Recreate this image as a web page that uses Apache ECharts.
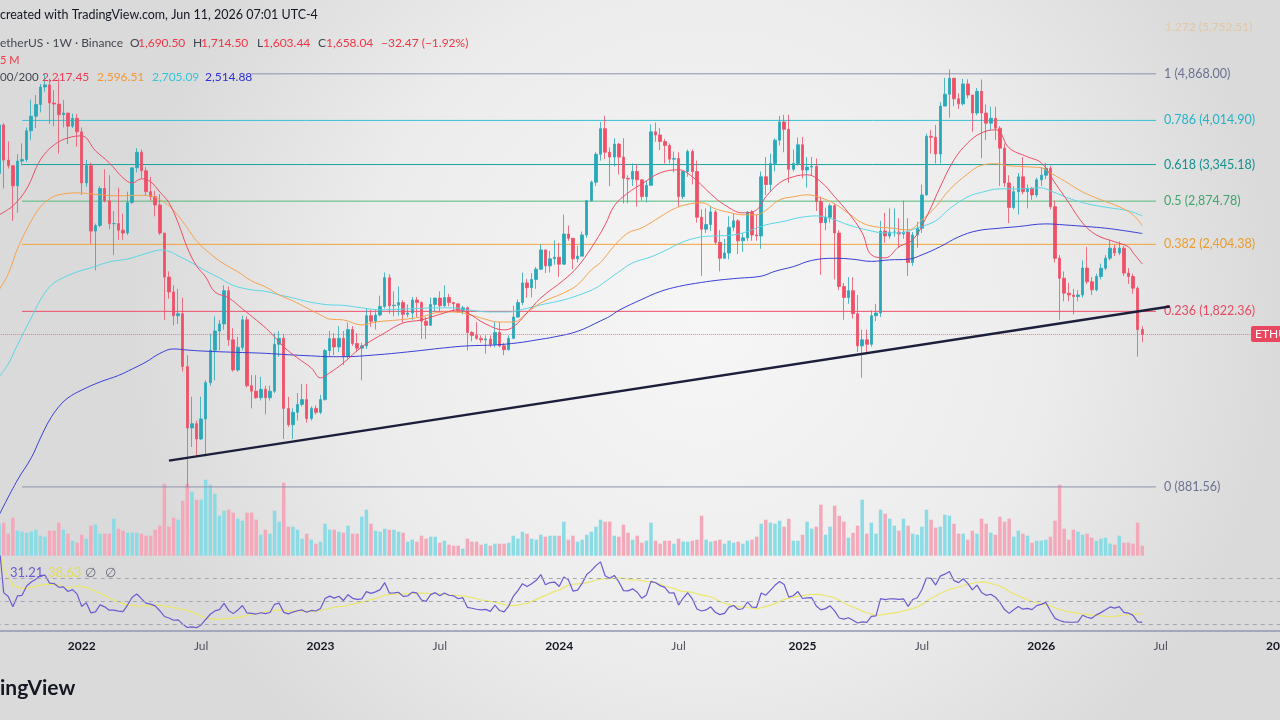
<!DOCTYPE html>
<html>
<head>
<meta charset="utf-8">
<title>ETHUSDT 1W Binance</title>
<script src="https://cdn.jsdelivr.net/npm/echarts@6/dist/echarts.min.js"></script>
<style>
html,body{margin:0;padding:0;width:1280px;height:720px;overflow:hidden;background:#ececec;}
#chart{width:1280px;height:720px;}
</style>
</head>
<body>
<div id="chart"></div>
<script>
// weekly candles, first week starts 2021-08-30
var firstOpen = 3225;
var closes = [
3940,3407,3329,3063,3393,3415,3847,4085,4288,4610,
4650,4315,4295,4112,4140,3920,4050,3830,3100,3330,
2540,2600,3030,2880,2620,2620,2550,2520,2860,3300,
3520,3260,2990,2930,2830,2520,2100,1975,1790,1805,
1450,1125,1145,1075,1168,1357,1552,1680,1730,1985,
1620,1430,1570,1760,1340,1310,1275,1320,1275,1310,
1590,1630,1220,1140,1200,1240,1265,1170,1220,1200,
1265,1550,1628,1573,1630,1515,1690,1595,1565,1580,
1790,1750,1795,1860,2095,1865,1870,1890,1800,1810,
1910,1890,1750,1720,1875,1925,1865,1930,1890,1880,
1830,1850,1670,1650,1630,1620,1625,1590,1670,1580,
1555,1630,1780,1890,2050,2010,2080,2170,2350,2200,
2265,2280,2215,2510,2465,2265,2290,2500,2880,3110,
3490,3880,3520,3450,3640,3450,3160,3150,3250,3140,
2930,3070,3830,3780,3680,3620,3420,3430,2930,3250,
3530,3250,2690,2560,2610,2750,2425,2270,2320,2580,
2650,2440,2470,2750,2500,2490,3180,3080,3360,3700,
3990,3870,3280,3360,3630,3270,3310,3320,2870,2630,
2690,2820,2520,2020,1930,1985,1805,1580,1620,1590,
1790,1810,2540,2490,2530,2530,2510,2530,2230,2500,
2570,2950,3760,3745,3495,4260,4475,4780,4390,4300,
4670,4460,4140,4528,4140,3970,4050,3888,3580,3100,
2800,2990,3180,2990,3030,2950,3140,3200,3295,2810,
2270,2090,1965,1950,1937,1950,2180,2060,1992,2105,
2179,2271,2367,2320,2367,2135,2105,2006,1690.50,1658.04
];
var highs = [
4030,3975,3680,3175,3490,3650,3900,4375,4460,4665,
4868,4770,4550,4780,4370,4110,4130,4125,3900,3410,
3370,2620,3060,3280,3200,2760,3040,2730,2990,3300,
3580,3560,3310,3180,3000,2960,2520,2150,2030,2000,
1930,1520,1280,1160,1280,1370,1660,1785,1760,2030,
2020,1700,1640,1790,1785,1400,1400,1390,1340,1340,
1665,1680,1660,1280,1220,1300,1350,1350,1230,1235,
1290,1560,1680,1665,1715,1680,1740,1715,1665,1600,
1845,1835,1835,1945,2140,2125,1980,2020,1910,1875,
1935,1935,1900,1780,1930,1930,1980,2030,1960,1895,
1870,1865,1860,1680,1745,1650,1650,1650,1750,1745,
1600,1650,1865,1915,2140,2085,2135,2190,2405,2350,
2340,2445,2420,2720,2600,2470,2390,2535,2890,3130,
3520,3990,4093,3590,3730,3660,3730,3200,3360,3350,
3150,3130,3950,3980,3890,3720,3650,3530,3520,3250,
3560,3560,3400,2780,2790,2820,2770,2550,2460,2700,
2730,2670,2520,2760,2770,2720,3250,3450,3500,3730,
4090,4110,4110,3560,3740,3750,3450,3450,3430,2930,
2800,2850,2850,2550,2050,2100,2100,1950,1690,1690,
1830,1880,2650,2740,2790,2790,2680,2880,2680,2530,
2640,3080,3800,3860,3940,4330,4790,4956,4790,4490,
4770,4760,4460,4590,4755,4290,4250,4250,3920,3650,
3200,3060,3230,3450,3080,3050,3170,3310,3370,3330,
2880,2300,2150,2050,2000,1990,2250,2380,2100,2130,
2220,2300,2450,2400,2433,2390,2180,2130,2020,1714.50
];
var lows = [
3155,3030,3290,2650,2740,3330,3380,3700,3890,4150,
4520,3960,3920,3500,3900,3640,3890,3600,2950,3050,
2410,2160,2580,2860,2560,2300,2450,2450,2500,2840,
3240,3160,2940,2880,2700,2500,1760,1920,1720,1730,
1420,881.56,1040,1000,1070,1000,1340,1370,1550,1690,
1580,1420,1420,1550,1330,1220,1270,1260,1190,1260,
1300,1510,1075,1130,1075,1160,1230,1150,1160,1190,
1190,1260,1510,1520,1540,1460,1500,1580,1540,1370,
1560,1710,1690,1785,1845,1805,1785,1790,1740,1780,
1760,1780,1626,1625,1720,1820,1820,1855,1860,1820,
1810,1800,1550,1610,1620,1600,1530,1570,1570,1570,
1520,1550,1625,1775,1870,1930,1930,2000,2160,2135,
2140,2210,2100,2210,2440,2170,2230,2290,2470,2870,
3060,3400,3420,3060,3320,3210,2850,2850,3060,2810,
2880,2860,3060,3675,3550,3360,3360,3240,2810,2900,
3180,3080,2630,2110,2520,2540,2400,2150,2270,2260,
2540,2310,2330,2440,2440,2440,2360,2950,3000,3250,
3620,3520,3100,3250,3330,3160,3040,3200,2760,2120,
2550,2630,2080,1990,1760,1880,1770,1540,1385,1540,
1575,1750,1780,2420,2460,2480,2370,2460,2110,2200,
2370,2520,2940,3500,3360,3360,4290,4060,4260,4210,
4270,4400,3830,4100,3435,3700,3850,3700,3060,3050,
2625,2780,2720,2960,2790,2890,2920,3060,3150,2780,
2230,1760,1900,1900,1800,1900,1930,2040,1950,1980,
2080,2160,2250,2290,2300,2110,2040,1960,1511,1603.44
];
// volume read as bar heights
var volumes = [
32,33,22,38,25,24,23,24,26,20,
19,25,25,33,26,22,15,13,21,17,
30,31,22,22,22,37,27,25,23,23,
23,22,20,20,26,30,72,29,38,36,
55,72,64,56,56,76,71,62,40,45,
46,43,37,35,43,43,36,21,26,22,
45,34,73,29,29,26,17,22,16,12,
14,32,26,26,24,23,30,22,22,39,
46,32,25,24,27,26,26,24,23,14,
16,14,20,17,19,19,13,15,11,10,
10,7,17,14,14,11,12,10,12,12,
12,13,20,17,24,22,17,16,21,19,
20,20,20,34,16,20,14,16,21,24,
29,36,34,34,20,19,31,23,16,20,
13,15,33,15,12,15,15,12,17,14,
14,15,16,40,16,14,15,16,12,15,
13,14,12,15,16,19,32,36,33,32,
35,29,37,15,15,21,34,27,29,51,
21,29,50,40,34,18,23,30,56,22,
33,22,46,42,37,30,25,37,30,22,
21,29,46,36,28,29,41,40,32,22,
22,16,25,22,37,32,23,21,39,34,
37,19,25,22,20,13,15,15,16,19,
35,71,27,16,26,24,21,22,18,15,
17,18,12,11,20,13,13,12,33,10
];
// moving averages: [week index, price]
var ma20 = [[0,2717],[3,2820],[6,3025],[9,3411],[12,3629],[15,3735],[18,3767],[21,3540],[24,3369],[27,3166],[29,3100],[31,3153],[33,3114],[35,2987],[37,2855],[39,2628],[41,2370],[43,2200],[45,2101],[47,1975],[50,1927],[53,1841],[56,1759],[59,1673],[62,1573],[65,1503],[68,1442],[70,1384],[72,1413],[75,1472],[79,1573],[84,1667],[88,1737],[92,1759],[97,1811],[100,1834],[102,1811],[106,1730],[110,1688],[112,1709],[115,1811],[118,1927],[123,2075],[126,2191],[129,2370],[132,2606],[134,2820],[137,2975],[140,3088],[144,3232],[148,3273],[151,3180],[155,2963],[158,2832],[162,2739],[165,2773],[167,2927],[170,3100],[173,3180],[176,3206],[179,3114],[182,2927],[185,2739],[188,2521],[190,2302],[193,2274],[196,2380],[199,2450],[202,2694],[205,3050],[208,3411],[211,3659],[214,3814],[217,3861],[218,3830],[220,3584],[224,3453],[227,3369],[230,3100],[233,2855],[236,2628],[239,2500],[243,2430],[246,2380],[247,2322],[249,2217.45]];
var ma50 = [[0,1992],[2,2128],[4,2360],[7,2650],[9,2808],[11,2903],[13,2951],[17,2975],[22,2951],[26,2939],[30,2945],[33,2939],[35,2891],[37,2820],[39,2705],[41,2574],[43,2440],[46,2312],[49,2218],[52,2146],[55,2067],[58,2017],[61,1951],[64,1903],[67,1849],[70,1796],[72,1765],[75,1759],[79,1723],[82,1744],[87,1759],[92,1781],[95,1811],[98,1818],[101,1811],[105,1773],[109,1744],[112,1744],[115,1811],[118,1888],[123,1967],[126,2034],[129,2164],[131,2230],[134,2390],[137,2521],[140,2574],[144,2694],[147,2785],[150,2838],[153,2855],[156,2785],[159,2745],[162,2717],[165,2717],[167,2768],[170,2891],[173,2927],[176,2951],[179,2915],[182,2843],[185,2734],[188,2628],[191,2585],[194,2574],[198,2553],[201,2661],[204,2808],[207,3013],[211,3219],[214,3335],[217,3355],[220,3328],[224,3313],[227,3300],[229,3232],[232,3127],[236,2987],[240,2891],[244,2808],[247,2717],[249,2596.51]];
var ma100 = [[0,1390],[2,1466],[4,1587],[7,1773],[9,1911],[11,2017],[13,2075],[17,2146],[20,2182],[24,2236],[28,2264],[31,2302],[34,2341],[35,2349],[37,2336],[39,2293],[42,2227],[45,2155],[48,2093],[51,2029],[55,1992],[58,1980],[61,1951],[64,1927],[67,1899],[70,1880],[72,1872],[75,1868],[79,1849],[83,1834],[89,1841],[95,1849],[99,1849],[102,1834],[107,1818],[111,1818],[114,1837],[118,1872],[123,1911],[127,1959],[130,2008],[132,2060],[135,2146],[138,2227],[142,2283],[145,2341],[149,2430],[153,2480],[156,2490],[160,2500],[163,2537],[167,2606],[171,2645],[174,2683],[178,2705],[182,2661],[185,2606],[189,2553],[193,2521],[196,2521],[200,2574],[204,2650],[207,2785],[211,2927],[214,2981],[218,3025],[222,3025],[227,3038],[229,3000],[234,2891],[238,2832],[242,2796],[246,2762],[249,2705.09]];
var ma200 = [[0,785],[4,907],[7,994],[9,1079],[11,1163],[13,1228],[15,1274],[18,1316],[22,1361],[26,1398],[29,1436],[32,1478],[35,1531],[38,1560],[41,1553],[44,1547],[48,1542],[53,1537],[58,1532],[63,1523],[68,1516],[72,1511],[75,1511],[82,1522],[89,1541],[97,1567],[102,1580],[108,1586],[113,1600],[117,1619],[121,1640],[126,1678],[131,1752],[133,1785],[135,1830],[140,1915],[144,1978],[148,2020],[153,2054],[157,2075],[161,2090],[166,2108],[169,2151],[173,2193],[177,2250],[182,2270],[186,2261],[190,2241],[194,2255],[198,2261],[201,2302],[205,2382],[209,2480],[213,2543],[218,2571],[222,2588],[228,2617],[232,2606],[237,2588],[241,2571],[245,2545],[249,2514.88]];
var fibLevels = [1, 0.786, 0.618, 0.5, 0.382, 0.236, 0];
var fibPrices = [4868.00, 4014.90, 3345.18, 2874.78, 2404.38, 1822.36, 881.56];
var fibColors = ['#8d92ad','#35c1d3','#1aa39e','#55b97c','#f2a33c','#ef5068','#8d92ad'];
var fibText = ['#6a7192','#22b3c7','#12928e','#3fa56b','#e99d2e','#e84a63','#6a7192'];
var fibStart = [55, 5, 5, 5, 5, 5, 5];
var fibEnd = 252;
var trendLine = [[37, 983], [255, 1859]];
var lastPrice = 1658.04;

var nCats = 282;
var cats = [];
var t0 = Date.UTC(2021, 7, 30);
for (var i = 0; i < nCats; i++) {
	cats.push(new Date(t0 + i * 7 * 86400000).toISOString().slice(0, 10));
}

var upCol = '#29a8ba', downCol = '#ee5068';
var opens = [firstOpen];
for (var i = 1; i < closes.length; i++) opens.push(closes[i - 1]);
var candles = [], volData = [];
for (var i = 0; i < closes.length; i++) {
	candles.push([opens[i], closes[i], lows[i], highs[i]]);
	volData.push({value: volumes[i], itemStyle: {color: closes[i] >= opens[i] ? '#8bdbe5' : '#f3a9ba'}});
}

// RSI 14 (Wilder), seeded with the first open
function rsiCalc(c, o0, n) {
	var out = [], ag = 0, al = 0, prev = o0;
	for (var k = 0; k < c.length; k++) {
		var d = c[k] - prev, g = d > 0 ? d : 0, l = d < 0 ? -d : 0;
		var m = Math.min(k + 1, n);
		ag = (ag * (m - 1) + g) / m;
		al = (al * (m - 1) + l) / m;
		out.push(al === 0 ? 100 : 100 - 100 / (1 + ag / al));
		prev = c[k];
	}
	return out;
}
function smaOf(a, n) {
	var out = [];
	for (var k = 0; k < a.length; k++) {
		var s = 0, c = 0;
		for (var j = Math.max(0, k - n + 1); j <= k; j++) if (a[j] != null) { s += a[j]; c++; }
		out.push(c ? s / c : null);
	}
	return out;
}
var rsi = rsiCalc(closes, firstOpen, 14);
var rsiMa = smaOf(rsi, 14);

var font = 'Lato';
var gridL = -3.2, gridW = nCats * 4.591;

var series = [];
series.push({
	type: 'bar', xAxisIndex: 1, yAxisIndex: 1, data: volData, barWidth: '76%', silent: true, z: 1
});
for (var i = 0; i < fibLevels.length; i++) {
	(function (i) {
		var lbl = fibLevels[i] + ' (' + fibPrices[i].toLocaleString('en-US', {minimumFractionDigits: 2, maximumFractionDigits: 2}) + ')';
		series.push({
			type: 'line', xAxisIndex: 0, yAxisIndex: 0, silent: true, z: 2,
			data: [[fibStart[i], fibPrices[i]], [fibEnd, fibPrices[i]]],
			symbol: 'none', lineStyle: {color: fibColors[i], width: 1},
			endLabel: {show: true, formatter: function () { return lbl; }, color: fibText[i], fontSize: 12.5, fontFamily: font, distance: 8}
		});
	})(i);
}
series.push({
	type: 'candlestick', xAxisIndex: 0, yAxisIndex: 0, data: candles, barWidth: 3, z: 3, silent: true,
	itemStyle: {color: upCol, color0: downCol, borderColor: upCol, borderColor0: downCol, borderWidth: 0.8},
	markLine: {
		silent: true, symbol: 'none', label: {show: false},
		lineStyle: {type: 'dotted', color: '#ef5068', width: 1, opacity: 0.7},
		data: [{yAxis: lastPrice}]
	}
});
var maList = [[ma200, '#3a3fd6'], [ma100, '#5cd6e6'], [ma50, '#f5a24e'], [ma20, '#ee4d66']];
maList.forEach(function (m) {
	series.push({
		type: 'line', xAxisIndex: 0, yAxisIndex: 0, data: m[0], smooth: 0.4, symbol: 'none', silent: true, z: 4,
		lineStyle: {color: m[1], width: 1}
	});
});
series.push({
	type: 'line', xAxisIndex: 0, yAxisIndex: 0, data: trendLine, symbol: 'none', silent: true, z: 5,
	lineStyle: {color: '#1b1f3b', width: 2.4}
});
series.push({
	type: 'line', xAxisIndex: 2, yAxisIndex: 2, data: rsiMa, symbol: 'none', silent: true, z: 2,
	lineStyle: {color: '#ece66c', width: 1.2}
});
series.push({
	type: 'line', xAxisIndex: 2, yAxisIndex: 2, data: rsi, symbol: 'none', silent: true, z: 3,
	lineStyle: {color: '#6a5bd0', width: 1.2},
	markLine: {
		silent: true, symbol: 'none', label: {show: false},
		lineStyle: {type: [4, 4], color: '#a2a5b0', width: 1},
		data: [{yAxis: 70}, {yAxis: 50}, {yAxis: 30}]
	}
});

function txt(x, y, s, col, f) {
	return {type: 'text', x: x, y: y, z: 100, silent: true,
		style: {text: s, fill: col, font: f || ('12px ' + font), verticalAlign: 'middle'}};
}
var dark = '#131722', red = '#f23645';
var graphics = [
	txt(0, 15, 'created with TradingView.com, Jun 11, 2026 07:01 UTC-4', dark, '12.5px ' + font),
	txt(0, 43, 'etherUS \u00b7 1W \u00b7 Binance', '#434651'),
	txt(130, 43, 'O', '#434651'), txt(138, 43, '1,690.50', red),
	txt(193, 43, 'H', '#434651'), txt(201, 43, '1,714.50', red),
	txt(257, 43, 'L', '#434651'), txt(263, 43, '1,603.44', red),
	txt(318, 43, 'C', '#434651'), txt(326, 43, '1,658.04', red),
	txt(381, 43, '\u221232.47 (\u22121.92%)', red),
	txt(0, 60, '5 M', red, '11px ' + font),
	txt(0, 77, '00/200', '#434651', '11.5px ' + font),
	txt(42, 77, '2,217.45', '#ee3d57'),
	txt(97, 77, '2,596.51', '#f29a38'),
	txt(152, 77, '2,705.09', '#33c6d8'),
	txt(205, 77, '2,514.88', '#2b2fd6'),
	{type: 'text', x: 1165, y: 27, z: 100, silent: true, style: {text: '1.272 (5,752.51)', fill: '#f2a33c', opacity: 0.35, font: '12px ' + font, verticalAlign: 'middle'}},
	txt(10, 573, '31.21', '#6a5bd0', '13px ' + font),
	txt(48, 573, '38.63', '#e3dc55', '13px ' + font),
	txt(85, 573, '\u2205', '#6b6e78', '13px ' + font),
	txt(105, 573, '\u2205', '#6b6e78', '13px ' + font),
	{type: 'rect', x: 1251, y: 326, z: 100, silent: true, shape: {width: 40, height: 16, r: 2}, style: {fill: '#e8475f'}},
	txt(1255, 334.5, 'ETHUSDT', '#ffffff', '12px ' + font),
	txt(0, 688, 'ingView', dark, 'bold 21px ' + font)
];

var myChart = echarts.init(document.getElementById('chart'));
var option = {
	animation: false,
	backgroundColor: {
		type: 'radial', x: 0.55, y: 0.45, r: 0.8,
		colorStops: [{offset: 0, color: '#f6f6f6'}, {offset: 0.6, color: '#ececec'}, {offset: 1, color: '#dadada'}]
	},
	grid: [
		{left: gridL, top: 0, width: gridW, height: 555, outerBoundsMode: 'none', containLabel: false},
		{left: gridL, top: 478, width: gridW, height: 77.7, outerBoundsMode: 'none', containLabel: false},
		{left: gridL, top: 556, width: gridW, height: 75, outerBoundsMode: 'none', containLabel: false}
	],
	xAxis: [
		{type: 'category', gridIndex: 0, data: cats, show: false},
		{type: 'category', gridIndex: 1, data: cats, show: false},
		{type: 'category', gridIndex: 2, data: cats,
			axisLine: {lineStyle: {color: '#9096b3', width: 1.5}},
			axisTick: {show: false},
			splitLine: {show: false},
			axisLabel: {
				margin: 9, fontSize: 12, fontFamily: font, color: '#50535e',
				interval: function (idx, val) {
					if (idx === 0) return false;
					var m = new Date(val).getUTCMonth(), pm = new Date(cats[idx - 1]).getUTCMonth();
					return m !== pm && (m === 0 || m === 6);
				},
				formatter: function (val) {
					var d = new Date(val);
					return d.getUTCMonth() === 0 ? '{y|' + d.getUTCFullYear() + '}' : 'Jul';
				},
				rich: {y: {fontWeight: 'bold', color: dark, fontSize: 12, fontFamily: font}}
			}
		}
	],
	yAxis: [
		{type: 'log', logBase: 10, gridIndex: 0, min: 665.2, max: 6607, show: false},
		{type: 'value', gridIndex: 1, min: 0, max: 77.7, show: false},
		{type: 'value', gridIndex: 2, min: 23.9, max: 89.1, show: false}
	],
	series: series,
	graphic: graphics
};
myChart.setOption(option);
</script>
</body>
</html>
